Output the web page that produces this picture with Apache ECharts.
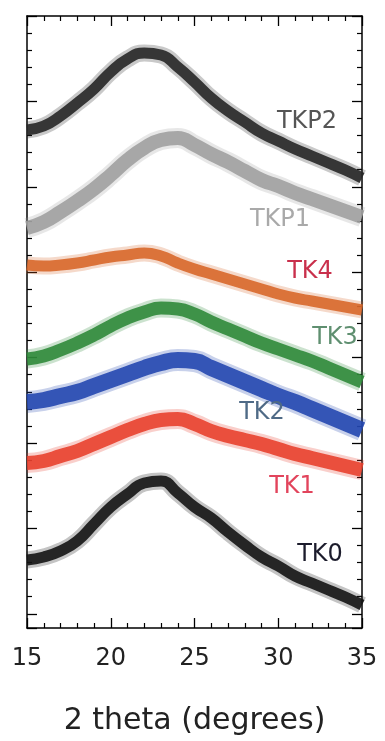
<!DOCTYPE html>
<html>
<head>
<meta charset="utf-8">
<script src="https://cdn.jsdelivr.net/npm/echarts@6/dist/echarts.min.js"></script>
<style>
html,body{margin:0;padding:0;background:#fff;}
#chart{width:385px;height:741px;}
</style>
</head>
<body>
<div id="chart"></div>
<script>
// 2 theta (degrees)
var twoTheta = [15,16,17,18,19,20,21,22,23,24,25,26,27,28,29,30,31,32,33,34,35];
// Intensities (arbitrary units, curves offset vertically)
var TKP2 = [498,502,512,525,539,556,569,575,573,561,546,530,517,506,495,487,479,472,465,458,450];
var TKP1 = [400,406,416,427,439,453,468,480,488,490,483,474,466,457,448,442,435,429,423,417,411];
var TK4  = [363,362,363,365,368,371,373,375,372,365,359,354,349,344,339,334,330,327,324,321,318];
var TK3  = [269,272,278,285,293,302,310,316,320,319,314,306,299,292,285,279,273,267,260,253,246];
var TK2  = [226,228,232,236,242,248,254,260,265,268,267,260,253,246,239,232,226,219,212,205,198];
var TK1  = [165,167,172,177,184,191,198,204,208,209,204,197,192,188,184,179,174,170,166,162,158];
var TK0  = [68,71,77,87,104,121,134,145,147,135,121,110,96,83,71,62,52,45,38,31,23];

var names  = ['TKP2','TKP1','TK4','TK3','TK2','TK1','TK0'];
var values = [TKP2, TKP1, TK4, TK3, TK2, TK1, TK0];
var colors = ['#262626','#a0a0a0','#d8672a','#2f8a3a','#2447b0','#e8402e','#141414'];
var widths = [11,14,11,13,16,14,11];
var labelColors = ['#555555','#a9a9a9','#c9304c','#5f8f70','#4f6a86','#e2445c','#1c1c2c'];

var chart = echarts.init(document.getElementById('chart'));
var series = [];
values.forEach(function(v, i){
  var d = twoTheta.map(function(x, j){ return [x, v[j]]; });
  series.push({
    name: names[i] + ' halo', type: 'line', data: d, smooth: 0.5, symbol: 'none',
    xAxisIndex: 0, yAxisIndex: 0, silent: true,
    lineStyle: {color: colors[i], width: widths[i] + 6, opacity: 0.25}
  });
  series.push({
    name: names[i], type: 'line', data: d, smooth: 0.5, symbol: 'none',
    xAxisIndex: 0, yAxisIndex: 0, silent: true,
    lineStyle: {color: colors[i], width: widths[i], opacity: 0.9}
  });
});

var FONT = '"DejaVu Sans", Verdana, sans-serif';
var tickAxisBase = {
  type: 'value', min: 0, max: 612 / 17.08, interval: 5, inverse: true,
  axisLine: {show: true, lineStyle: {color: '#000', width: 1.5}},
  axisTick: {show: true, inside: true, length: 10, lineStyle: {color: '#000', width: 1.3}},
  minorTick: {show: true, splitNumber: 5, length: 5, lineStyle: {color: '#000', width: 1.2}},
  axisLabel: {show: false}, splitLine: {show: false}, minorSplitLine: {show: false}
};

var labelPos = [[307,122],[280,220],[310,272],[335,338],[262,413],[292,487],[320,555]];

chart.setOption({
  animation: false,
  backgroundColor: '#ffffff',
  grid: {left: 27, right: 23, top: 16, bottom: 113},
  xAxis: [
    {
      type: 'value', position: 'bottom', min: 15, max: 35, interval: 5,
      axisLine: {show: true, onZero: false, lineStyle: {color: '#000', width: 1.5}},
      axisTick: {show: true, inside: true, length: 10, lineStyle: {color: '#000', width: 1.3}},
      minorTick: {show: true, splitNumber: 5, length: 5, lineStyle: {color: '#000', width: 1.2}},
      axisLabel: {show: true, fontSize: 24, color: '#222', fontFamily: FONT, margin: 19},
      splitLine: {show: false},
      name: '2 theta (degrees)', nameLocation: 'middle', nameGap: 78,
      nameTextStyle: {fontSize: 30, color: '#222', fontFamily: FONT}
    },
    {
      type: 'value', position: 'top', min: 15, max: 35, interval: 5,
      axisLine: {show: true, onZero: false, lineStyle: {color: '#000', width: 1.5}},
      axisTick: {show: true, inside: true, length: 10, lineStyle: {color: '#000', width: 1.3}},
      minorTick: {show: true, splitNumber: 5, length: 5, lineStyle: {color: '#000', width: 1.2}},
      axisLabel: {show: false}, splitLine: {show: false}
    }
  ],
  yAxis: [
    {type: 'value', min: 0, max: 612, show: false},
    Object.assign({}, tickAxisBase, {position: 'left'}),
    Object.assign({}, tickAxisBase, {position: 'right'})
  ],
  series: series,
  graphic: names.map(function(n, i){
    return {
      type: 'text', x: labelPos[i][0], y: labelPos[i][1], silent: true, z: 100,
      style: {text: n, fill: labelColors[i], font: '24px ' + FONT, textAlign: 'center', textVerticalAlign: 'middle'}
    };
  })
});
</script>
</body>
</html>
